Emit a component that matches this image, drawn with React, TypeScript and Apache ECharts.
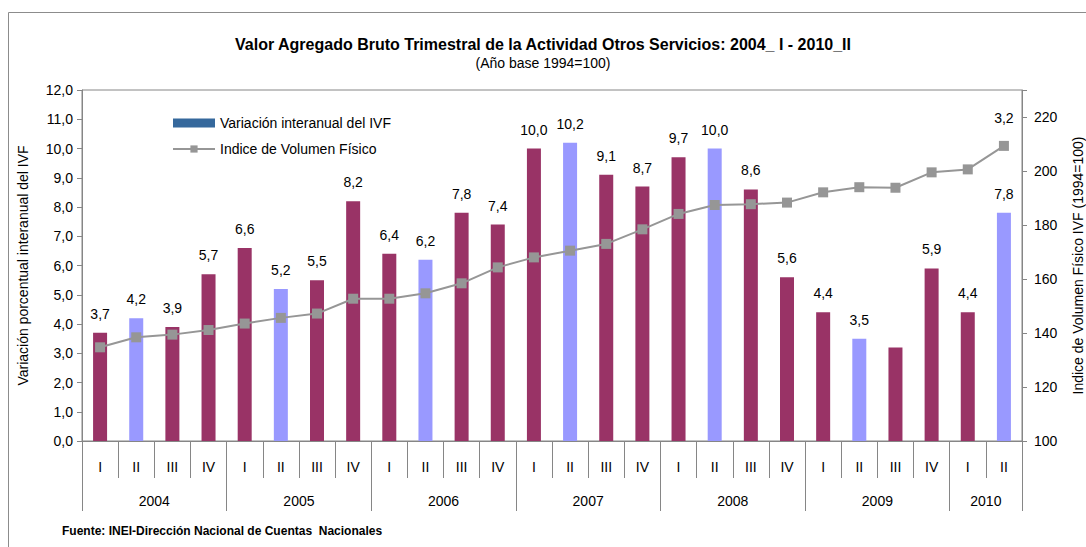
import React, { useEffect, useRef } from "react";
import * as echarts from "echarts";

const years = ["2004", "2005", "2006", "2007", "2008", "2009", "2010"];
const quartersPerYear = [4, 4, 4, 4, 4, 4, 2];
const quarterNames = ["I", "II", "III", "IV"];

// Variación interanual del IVF (%), 2004_I .. 2010_II
const variacion = [
  3.7, 4.2, 3.9, 5.7,
  6.6, 5.2, 5.5, 8.2,
  6.4, 6.2, 7.8, 7.4,
  10.0, 10.2, 9.1, 8.7,
  9.7, 10.0, 8.6, 5.6,
  4.4, 3.5, 3.2, 5.9,
  4.4, 7.8,
];

// Indice de Volumen Físico (1994=100)
const ivf = [
  134.7, 138.4, 139.4, 141.1,
  143.5, 145.6, 147.2, 152.7,
  152.7, 154.7, 158.4, 164.3,
  168.0, 170.5, 173.0, 178.4,
  184.1, 187.4, 187.7, 188.3,
  192.1, 194.0, 193.8, 199.5,
  200.6, 209.3,
];

// bar whose label is displaced (shown above the last line point in the source)
const displacedLabelIndex = 22;

const leftTicks = { min: 0, max: 12, interval: 1 };
const rightTicks = { min: 100, max: 230, interval: 20, lastLabel: 220 };

const FONT = "'Liberation Sans Narrow', 'Arial Narrow', 'Liberation Sans', Arial, sans-serif";
const MAGENTA = "#993366";
const LAVENDER = "#9999FF";
const GREY = "#969696";
const AXIS = "#868686";

const fmt = (v: number) => v.toFixed(1).replace(".", ",");

export default function App() {
  const ref = useRef<HTMLDivElement>(null);

  useEffect(() => {
    if (!ref.current) return;
    const chart = echarts.init(ref.current, undefined, { renderer: "svg" });

    const quarters: string[] = [];
    quartersPerYear.forEach((n) => {
      for (let i = 0; i < n; i++) quarters.push(quarterNames[i]);
    });

    // year axis: boundary points 0..26 (boundaryGap false)
    const total = quarters.length;
    const yearAxisData: string[] = new Array(total + 1).fill("");
    const yearBoundaries: number[] = [0];
    let acc = 0;
    quartersPerYear.forEach((n, i) => {
      yearAxisData[acc + n / 2] = years[i];
      acc += n;
      yearBoundaries.push(acc);
    });

    const barData = variacion.map((v, i) => ({
      value: v,
      itemStyle: { color: quarters[i] === "II" ? LAVENDER : MAGENTA },
      label: i === displacedLabelIndex ? { show: false } : undefined,
    }));

    const lineData = ivf.map((v, i) =>
      i === ivf.length - 1
        ? {
            value: v,
            label: {
              show: true,
              position: "top",
              distance: 16,
              formatter: () => fmt(variacion[displacedLabelIndex]),
              fontFamily: FONT,
              fontSize: 14,
              color: "#000",
            },
          }
        : v
    );

    chart.setOption({
      animation: false,
      textStyle: { fontFamily: FONT },
      title: [
        {
          text: "Valor Agregado Bruto Trimestral de la Actividad Otros Servicios: 2004_ I - 2010_II",
          subtext: "(Año base 1994=100)",
          left: "center",
          top: 31,
          itemGap: 4,
          textStyle: { fontFamily: FONT, fontSize: 16, fontWeight: "bold", color: "#000" },
          subtextStyle: { fontFamily: FONT, fontSize: 14, color: "#000" },
        },
        {
          text: "Fuente: INEI-Dirección Nacional de Cuentas  Nacionales",
          left: 62,
          top: 525,
          padding: 0,
          textStyle: { fontFamily: FONT, fontSize: 12, fontWeight: "bold", color: "#000" },
        },
      ],
      graphic: [
        {
          type: "rect",
          shape: { x: 8.5, y: 12.5, width: 1100, height: 600 },
          style: { fill: "none", stroke: "#8c8c8c", lineWidth: 1 },
          silent: true,
        },
      ],
      legend: {
        orient: "vertical",
        left: 172,
        top: 116,
        padding: 0,
        itemWidth: 42,
        itemHeight: 9,
        itemGap: 12,
        textStyle: { fontFamily: FONT, fontSize: 14, color: "#000" },
        data: [
          { name: "Variación interanual del IVF", icon: "rect", itemStyle: { color: "#35689C" } },
          { name: "Indice de Volumen Físico" },
        ],
      },
      grid: {
        left: 82,
        right: 64,
        top: 90,
        bottom: 106,
        containLabel: false,
        outerBoundsMode: "none",
        show: true,
        borderColor: AXIS,
        borderWidth: 1,
        backgroundColor: "transparent",
      },
      xAxis: [
        {
          type: "category",
          data: quarters,
          boundaryGap: true,
          position: "bottom",
          axisLine: { show: true, lineStyle: { color: AXIS } },
          axisTick: { show: true, interval: 0, length: 37, lineStyle: { color: AXIS } },
          axisLabel: { interval: 0, margin: 19, fontFamily: FONT, fontSize: 14, color: "#000" },
          splitLine: { show: false },
        },
        {
          type: "category",
          data: yearAxisData,
          boundaryGap: false,
          position: "bottom",
          axisLine: { show: false },
          axisTick: {
            show: true,
            length: 70,
            interval: (idx: number) => yearBoundaries.indexOf(idx) >= 0,
            lineStyle: { color: AXIS },
          },
          axisLabel: {
            interval: (idx: number, val: string) => val !== "",
            margin: 53,
            fontFamily: FONT,
            fontSize: 14,
            color: "#000",
          },
          splitLine: { show: false },
        },
      ],
      yAxis: [
        {
          type: "value",
          min: leftTicks.min,
          max: leftTicks.max,
          interval: leftTicks.interval,
          position: "left",
          name: "Variación porcentual interanual del IVF",
          nameLocation: "middle",
          nameRotate: 90,
          nameGap: 52,
          nameTextStyle: { fontFamily: FONT, fontSize: 14, color: "#000" },
          axisLine: { show: true, lineStyle: { color: AXIS } },
          axisTick: { show: true, length: 5, lineStyle: { color: AXIS } },
          axisLabel: { formatter: (v: number) => fmt(v), fontFamily: FONT, fontSize: 14, color: "#000", margin: 9 },
          splitLine: { show: false },
        },
        {
          type: "value",
          min: rightTicks.min,
          max: rightTicks.max,
          interval: rightTicks.interval,
          position: "right",
          name: "Indice de Volumen Físico IVF (1994=100)",
          nameLocation: "middle",
          nameRotate: 90,
          nameGap: 49,
          nameTextStyle: { fontFamily: FONT, fontSize: 14, color: "#000" },
          axisLine: { show: true, lineStyle: { color: AXIS } },
          axisTick: { show: true, length: 5, lineStyle: { color: AXIS } },
          axisLabel: {
            formatter: (v: number) => (v > rightTicks.lastLabel ? "" : String(v)),
            fontFamily: FONT,
            fontSize: 14,
            color: "#000",
            margin: 12,
          },
          splitLine: { show: false },
        },
      ],
      series: [
        {
          name: "Variación interanual del IVF",
          type: "bar",
          xAxisIndex: 0,
          yAxisIndex: 0,
          barWidth: 14,
          data: barData,
          label: {
            show: true,
            position: "top",
            distance: 12,
            formatter: (p: any) => fmt(p.value),
            fontFamily: FONT,
            fontSize: 14,
            color: "#000",
          },
        },
        {
          name: "Indice de Volumen Físico",
          type: "line",
          xAxisIndex: 0,
          yAxisIndex: 1,
          data: lineData,
          symbol: "rect",
          symbolSize: 10,
          itemStyle: { color: GREY },
          lineStyle: { color: GREY, width: 2 },
          z: 3,
        },
      ],
    });

    return () => chart.dispose();
  }, []);

  return (
    <div
      ref={ref}
      style={{ position: "fixed", left: 0, top: 0, width: 1086, height: 547, background: "#fff" }}
    />
  );
}
